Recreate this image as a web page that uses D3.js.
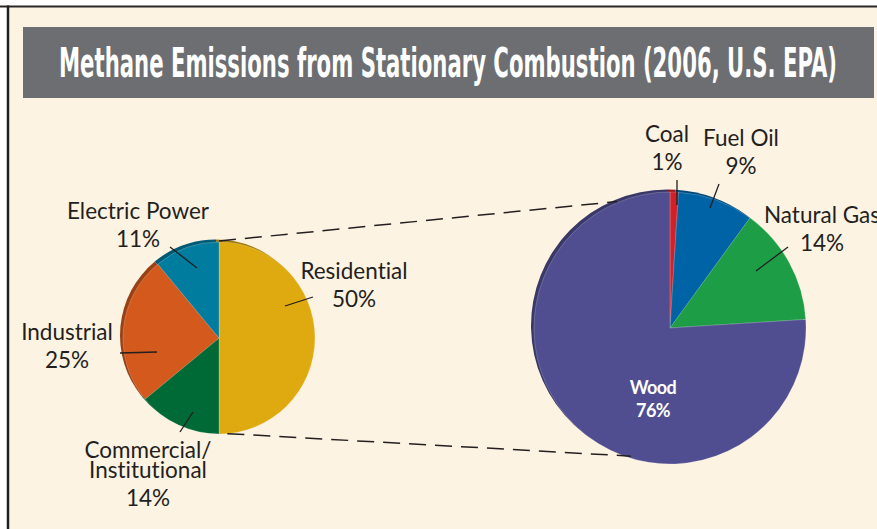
<!DOCTYPE html>
<html>
<head>
<meta charset="utf-8">
<script src="https://cdn.jsdelivr.net/npm/d3@7"></script>
<style>
  html, body { margin: 0; padding: 0; background: #fff; }
  svg { display: block; }
  text { font-variant-ligatures: none; }
</style>
</head>
<body>
<svg id="chart" width="877" height="529"></svg>
<script>
// Data
var title = "Methane Emissions from Stationary Combustion (2006, U.S. EPA)";

var sectorNames = ["Residential", "Commercial/Institutional", "Industrial", "Electric Power"];
var sectorValues = [50, 14, 25, 11];
var sectorColors = ["#DEAA10", "#006A37", "#D3591D", "#007C9E"];

var fuelNames = ["Coal", "Fuel Oil", "Natural Gas", "Wood"];
var fuelValues = [1, 9, 14, 76];
var fuelColors = ["#D2202A", "#0063A6", "#1E9D47", "#504D90"];

// Layout: label text anchor and leader line, relative to pie centre
var sectorLayout = {
  "Residential":              {label: [135, -59], leader: [94, -41, 66, -32]},
  "Commercial/Institutional": {label: [-71, 120], leader: [-39, 94, -26, 74], gap: 20},
  "Industrial":               {label: [-152, 2], leader: [-99, 15, -62, 14]},
  "Electric Power":           {label: [-81, -119], leader: [-49, -91, -22, -70]}
};
var fuelLayout = {
  "Coal":        {label: [-3, -186], leader: [7, -148, 7, -123]},
  "Fuel Oil":    {label: [71, -182], leader: [49, -144, 40, -120]},
  "Natural Gas": {label: [152, -105], leader: [118, -81, 86, -57]},
  "Wood":        {label: [-17, 66], inside: true}
};

var W = 877, H = 529;
var svg = d3.select("#chart");
var ink = "#231F20";

// frame
svg.append("rect").attr("x", 8).attr("y", 6).attr("width", W).attr("height", H)
  .attr("fill", "#FDF3E3");
svg.append("line").attr("x1", 0).attr("x2", W).attr("y1", 6.5).attr("y2", 6.5)
  .attr("stroke", "#2a2727").attr("stroke-width", 2);
svg.append("line").attr("x1", 8).attr("x2", 8).attr("y1", 5.5).attr("y2", H)
  .attr("stroke", ink).attr("stroke-width", 2.5);

// title bar
svg.append("rect").attr("x", 23).attr("y", 27).attr("width", 851).attr("height", 71)
  .attr("fill", "#6D6E71");
svg.append("text").attr("x", 448).attr("y", 77)
  .attr("text-anchor", "middle")
  .attr("font-family", "'Liberation Sans Narrow', 'DejaVu Sans Condensed', sans-serif")
  .attr("font-weight", "bold").attr("font-size", 40)
  .attr("textLength", 778).attr("lengthAdjust", "spacingAndGlyphs")
  .attr("fill", "#fff").text(title);

var pie = d3.pie().sort(null).value(function(d) { return d; });

function drawPie(cx, cy, r, names, values, colors, layout) {
  var arcs = pie(values);
  var arc = d3.arc().innerRadius(0).outerRadius(r);
  var g = svg.append("g").attr("transform", "translate(" + cx + "," + cy + ")");

  // darker rim, pushed up-left, for the tilted look
  g.append("g").attr("transform", "translate(-3,-2.5)")
    .selectAll("path").data(arcs).enter().append("path")
    .attr("d", arc)
    .attr("fill", function(d, i) { return d3.color(colors[i]).darker(0.9); });

  g.append("g").selectAll("path").data(arcs).enter().append("path")
    .attr("d", arc)
    .attr("fill", function(d, i) { return colors[i]; })
    .attr("stroke", "rgba(255,255,255,0.35)").attr("stroke-width", 0.6);

  names.forEach(function(name, i) {
    var L = layout[name];
    var lines = name.indexOf("/") >= 0 ? [name.split("/")[0] + "/", name.split("/")[1]] : [name];
    var gap = L.gap || 29;
    var t = g.append("text")
      .attr("text-anchor", "middle")
      .attr("font-family", "Lato, 'Open Sans', sans-serif")
      .attr("font-size", L.inside ? 18 : 22.5)
      .attr("font-weight", L.inside ? "bold" : "normal")
      .attr("letter-spacing", L.inside ? -0.6 : 0)
      .attr("fill", L.inside ? "#fff" : ink);
    lines.forEach(function(s, k) {
      t.append("tspan").attr("x", L.label[0]).attr("y", L.label[1] + k * gap).text(s);
    });
    t.append("tspan").attr("x", L.label[0])
      .attr("y", L.label[1] + (lines.length - 1) * gap + (L.inside ? 23 : 28))
      .text(values[i] + "%");
    if (L.leader) {
      g.append("line")
        .attr("x1", L.leader[0]).attr("y1", L.leader[1])
        .attr("x2", L.leader[2]).attr("y2", L.leader[3])
        .attr("stroke", ink).attr("stroke-width", 1.3);
    }
  });
  return {cx: cx, cy: cy, r: r};
}

var left = drawPie(219, 338, 96, sectorNames, sectorValues, sectorColors, sectorLayout);
var right = drawPie(670, 328, 136, fuelNames, fuelValues, fuelColors, fuelLayout);

// connector lines between the pies
function onCircle(p, deg, rr) {
  var a = deg * Math.PI / 180;
  return [p.cx + rr * Math.sin(a), p.cy - rr * Math.cos(a)];
}
var connectors = [
  [onCircle(left, 0, left.r + 1), onCircle(right, -22.6, right.r + 1)],
  [onCircle(left, 175, left.r), onCircle(right, 197, right.r - 2)]
];
svg.selectAll("line.connector").data(connectors).enter().append("line")
  .attr("class", "connector")
  .attr("x1", function(d) { return d[0][0]; }).attr("y1", function(d) { return d[0][1]; })
  .attr("x2", function(d) { return d[1][0]; }).attr("y2", function(d) { return d[1][1]; })
  .attr("stroke", ink).attr("stroke-width", 1.5).attr("stroke-dasharray", "17,9");
</script>
</body>
</html>
